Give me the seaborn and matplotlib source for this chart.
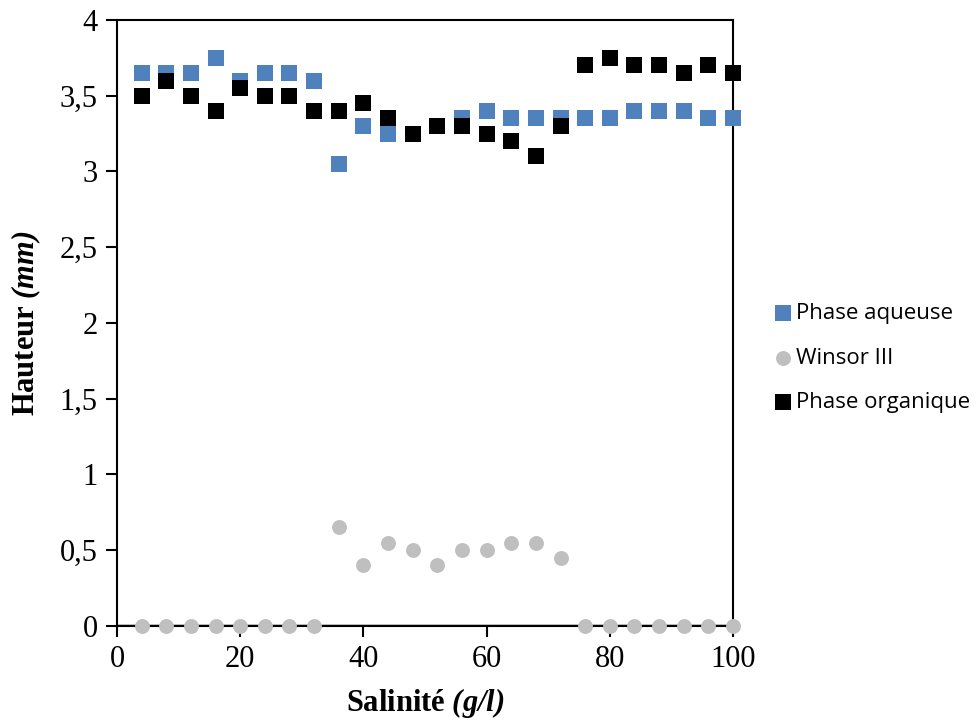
import matplotlib
matplotlib.use("Agg")
import matplotlib.pyplot as plt
import seaborn as sns
import numpy as np
import pandas as pd
from matplotlib.ticker import FuncFormatter, MultipleLocator

salinite = [4, 8, 12, 16, 20, 24, 28, 32, 36, 40, 44, 48, 52, 56, 60, 64, 68, 72, 76, 80, 84, 88, 92, 96, 100]
phase_aqueuse = [3.65, 3.65, 3.65, 3.75, 3.6, 3.65, 3.65, 3.6, 3.05, 3.3, 3.25, 3.25, 3.3, 3.35, 3.4,
                 3.35, 3.35, 3.35, 3.35, 3.35, 3.4, 3.4, 3.4, 3.35, 3.35]
winsor_iii = [0, 0, 0, 0, 0, 0, 0, 0, 0.65, 0.4, 0.55, 0.5, 0.4, 0.5, 0.5,
              0.55, 0.55, 0.45, 0, 0, 0, 0, 0, 0, 0]
phase_organique = [3.5, 3.6, 3.5, 3.4, 3.55, 3.5, 3.5, 3.4, 3.4, 3.45, 3.35, 3.25, 3.3, 3.3, 3.25,
                   3.2, 3.1, 3.3, 3.7, 3.75, 3.7, 3.7, 3.65, 3.7, 3.65]

series_names = ["Phase aqueuse", "Winsor III", "Phase organique"]
colors = ["#4F81BD", "#BFBFBF", "#000000"]
markers = ["s", "o", "s"]

sns.set_theme(style="white")
plt.rcParams["font.family"] = ["Liberation Serif", "DejaVu Serif"]
plt.rcParams["text.color"] = "black"
plt.rcParams["axes.labelcolor"] = "black"
plt.rcParams["mathtext.fontset"] = "custom"
plt.rcParams["mathtext.rm"] = "Liberation Serif"
plt.rcParams["mathtext.it"] = "Liberation Serif:italic"
plt.rcParams["mathtext.bf"] = "Liberation Serif:bold"
plt.rcParams["mathtext.bfit"] = "Liberation Serif:italic:bold"

fig = plt.figure(figsize=(9.79, 7.24), dpi=100)
ax = fig.add_axes([0.1195, 0.1354, 0.7487 - 0.1195, 0.9724 - 0.1354])

df = pd.DataFrame({"x": salinite, "Phase aqueuse": phase_aqueuse,
                   "Winsor III": winsor_iii, "Phase organique": phase_organique})

ax.axhline(0, color="black", lw=2.5, zorder=1)
for name, col, mk in zip(series_names, colors, markers):
    sns.scatterplot(data=df, x="x", y=name, ax=ax, color=col, marker=mk,
                    s=120 if mk == "s" else 115, linewidth=0, label=name, zorder=3,
                    clip_on=False)

ax.set_xlim(0, 100)
ax.set_ylim(0, 4)
ax.xaxis.set_major_locator(MultipleLocator(20))
ax.yaxis.set_major_locator(MultipleLocator(0.5))
ax.yaxis.set_major_formatter(FuncFormatter(lambda v, p: f"{v:g}".replace(".", ",")))
for s in ax.spines.values():
    s.set_visible(True)
    s.set_color("black")
    s.set_linewidth(1.5)
ax.tick_params(axis="both", direction="out", length=8, width=1.5, labelsize=22,
               colors="black", left=True, bottom=True, pad=6)

ax.set_xlabel(r"Salinité $\mathbfit{(g/l)}$", fontsize=22, fontweight="bold", labelpad=8,
              color="black")
ax.set_ylabel(r"Hauteur $\mathbfit{(mm)}$", fontsize=22, fontweight="bold", labelpad=12,
              color="black")

leg = ax.legend(loc="center left", bbox_to_anchor=(1.03, 0.442), frameon=False,
                prop={"family": "Open Sans", "size": 16}, handletextpad=0.1,
                labelspacing=1.05, markerscale=1.0, handlelength=1.0)
for t in leg.get_texts():
    t.set_color("black")

fig.savefig("out.png", dpi=100)
